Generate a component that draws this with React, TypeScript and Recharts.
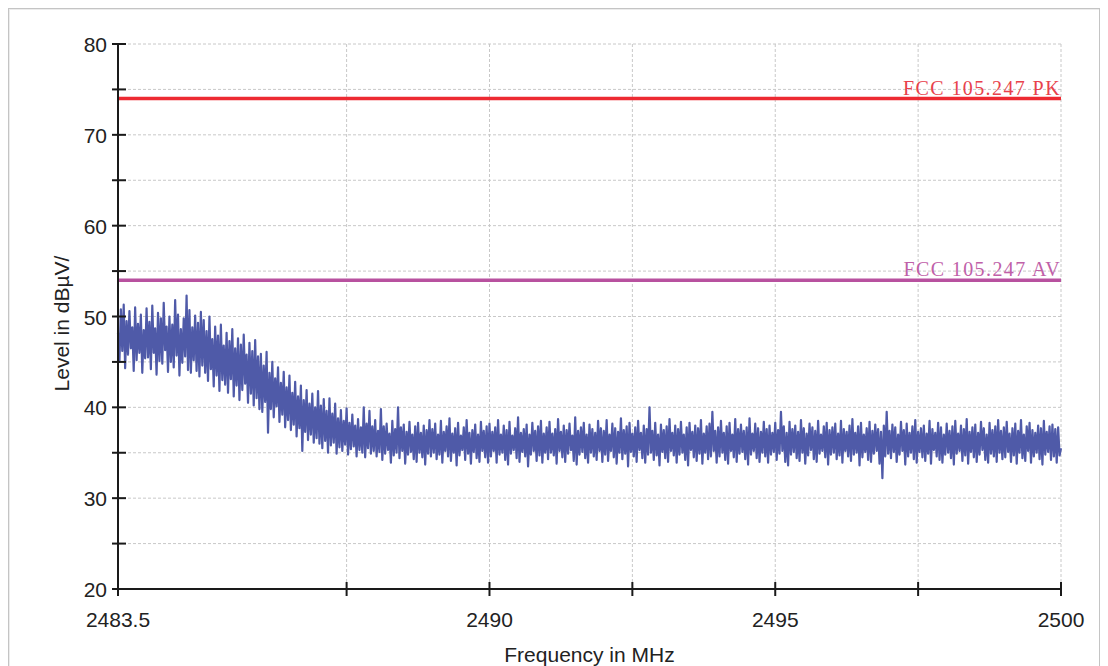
import { LineChart, Line, XAxis, YAxis, CartesianGrid, ReferenceLine } from 'recharts';

// each 50 kHz bin gives a peak reading and, half a bin later, a trough reading
const FREQ_START = 2483.5;
const BIN = 0.05;

// dBµV, one row per MHz (first row covers 2483.5 - 2484)
const peaks = [
  48.2, 50.8, 51.3, 49.5, 50.6, 48.8, 51.0, 49.2, 50.2, 48.5,
  50.9, 49.4, 51.2, 48.7, 50.4, 49.8, 51.5, 48.9, 50.0, 49.1, 51.8, 50.2, 48.6, 49.8, 52.3, 50.7, 48.8, 50.1, 49.3, 50.5,
  49.6, 48.4, 50.0, 47.5, 48.9, 47.9, 49.1, 46.8, 48.2, 47.3, 48.6, 46.5, 47.6, 46.9, 48.0, 45.8, 47.1, 46.2, 47.4, 45.6,
  45.9, 44.6, 46.1, 43.8, 45.0, 43.2, 44.4, 42.7, 43.9, 42.2, 43.5, 41.6, 42.8, 41.2, 42.4, 40.8, 41.9, 40.4, 41.5, 40.0,
  41.8, 40.2, 40.9, 39.6, 41.0, 39.3, 40.4, 38.8, 39.7, 38.5, 39.9, 38.3, 39.2, 38.0, 38.7, 37.8, 40.0, 38.2, 39.6, 37.9,
  38.6, 37.4, 39.8, 37.9, 38.2, 37.1, 38.5, 37.6, 40.0, 37.8, 38.1, 37.3, 38.4, 37.0, 37.9, 38.3, 37.2, 38.0, 37.5, 38.6,
  37.6, 38.2, 37.0, 38.5, 37.3, 37.9, 38.8, 37.1, 37.7, 38.3, 36.9, 37.8, 38.6, 37.2, 37.5, 38.1, 37.0, 38.4, 37.4, 37.9,
  38.2, 37.3, 37.8, 38.6, 37.0, 38.0, 37.5, 38.4, 36.9, 37.7, 38.9, 37.2, 37.6, 38.1, 37.0, 38.3, 37.4, 37.9, 38.5, 37.1,
  37.8, 38.4, 37.1, 37.6, 38.7, 37.3, 38.0, 37.5, 38.2, 36.9, 38.9, 37.4, 37.8, 38.3, 37.0, 38.1, 37.6, 37.2, 38.5, 37.7,
  37.4, 38.6, 37.0, 38.2, 37.7, 37.3, 38.8, 37.5, 37.9, 38.3, 37.1, 37.8, 38.5, 37.2, 38.0, 37.6, 40.0, 37.4, 38.3, 37.0,
  38.1, 37.5, 37.9, 38.7, 37.2, 38.0, 37.6, 38.4, 37.0, 37.8, 38.3, 37.3, 38.0, 37.7, 38.6, 37.1, 37.9, 38.2, 39.5, 37.4,
  37.8, 38.5, 37.2, 37.9, 38.3, 37.0, 38.7, 37.6, 38.1, 37.4, 37.8, 38.8, 37.1, 38.2, 37.7, 37.3, 38.4, 37.6, 38.0, 37.2,
  38.3, 37.5, 39.5, 37.9, 37.2, 38.4, 37.6, 38.0, 37.3, 38.6, 37.7, 37.1, 38.2, 37.8, 37.4, 38.5, 37.0, 37.9, 38.3, 37.5,
  37.8, 38.2, 37.1, 38.5, 37.6, 37.3, 38.0, 38.7, 37.2, 37.9, 38.3, 37.0, 37.7, 38.4, 37.4, 38.1, 37.6, 37.3, 38.0, 39.5,
  37.4, 38.1, 37.8, 37.0, 38.4, 37.5, 38.2, 37.2, 37.9, 38.6, 37.3, 37.7, 38.0, 37.1, 38.5, 37.6, 37.2, 38.3, 37.8, 37.0,
  38.2, 37.4, 37.9, 38.5, 37.1, 38.0, 37.6, 38.7, 37.3, 37.8, 38.1, 37.2, 38.4, 37.7, 37.0, 38.3, 37.5, 37.9, 38.6, 37.4,
  37.8, 38.4, 37.1, 37.7, 38.2, 37.4, 38.6, 37.0, 37.9, 38.3, 37.5, 37.2, 38.0, 37.7, 38.5, 37.3, 37.9, 38.1, 37.6, 37.8,
];
const troughs = [
  45.0, 46.2, 44.3, 45.8, 46.5, 44.0, 45.2, 46.0, 43.8, 45.4,
  45.5, 44.2, 46.0, 43.6, 45.1, 44.8, 46.3, 43.9, 45.0, 44.4, 45.7, 43.5, 44.9, 45.6, 44.1, 43.8, 45.2, 44.0, 43.4, 44.6,
  43.8, 42.9, 44.2, 42.3, 43.5, 41.8, 43.0, 42.5, 41.6, 43.1, 41.2, 42.4, 40.8, 41.9, 42.6, 40.5, 41.5, 40.2, 41.0, 39.8,
  39.5, 40.6, 37.2, 39.8, 38.9, 40.1, 38.4, 39.2, 37.8, 38.6, 37.5, 38.1, 36.8, 37.7, 35.2, 37.3, 36.4, 37.0, 36.1, 36.6,
  36.0, 35.5, 36.3, 35.0, 35.8, 36.1, 34.9, 35.6, 35.2, 35.9, 34.8, 35.4, 35.7, 34.6, 35.3, 35.0, 34.5, 35.5, 34.9, 35.2,
  34.6, 35.1, 34.2, 34.9, 35.3, 33.9, 34.7, 35.0, 34.4, 35.2, 33.8, 34.8, 35.1, 34.3, 34.0, 35.0, 34.5, 33.7, 34.9, 34.6,
  35.0, 34.3, 34.8, 33.9, 35.2, 34.6, 34.1, 35.0, 33.6, 34.7, 35.3, 34.2, 34.9, 33.8, 35.1, 34.4, 34.0, 35.2, 34.5, 33.9,
  34.6, 35.2, 33.9, 34.8, 35.0, 34.2, 33.7, 34.9, 35.3, 34.4, 34.0, 35.1, 34.6, 33.5, 34.8, 35.2, 34.1, 34.7, 33.9, 35.0,
  34.3, 35.0, 34.7, 33.8, 35.2, 34.5, 34.0, 34.9, 35.3, 34.1, 33.7, 34.8, 35.1, 34.4, 33.9, 35.0, 34.6, 34.2, 35.2, 34.0,
  34.8, 34.1, 35.2, 34.5, 33.8, 35.0, 34.3, 34.9, 33.5, 35.1, 34.6, 34.0, 35.3, 34.4, 33.9, 34.8, 35.0, 34.2, 34.7, 33.6,
  35.1, 34.4, 34.0, 35.2, 34.7, 33.9, 34.8, 35.0, 34.2, 33.6, 35.3, 34.5, 34.1, 34.9, 33.8, 35.0, 34.3, 34.6, 35.2, 33.9,
  34.6, 35.0, 34.2, 33.8, 35.2, 34.5, 34.0, 34.9, 35.1, 34.3, 33.7, 34.8, 35.2, 34.4, 34.0, 35.0, 34.6, 33.9, 34.8, 35.1,
  34.2, 34.9, 35.2, 34.0, 33.6, 34.8, 35.1, 34.4, 34.1, 35.0, 33.8, 34.7, 35.3, 34.3, 34.0, 34.9, 35.2, 34.5, 33.7, 34.8,
  35.0, 34.3, 34.7, 33.9, 35.2, 34.6, 34.1, 34.8, 35.0, 33.6, 34.5, 35.1, 34.2, 34.0, 34.9, 35.2, 33.8, 32.2, 34.6, 34.9,
  34.4, 35.1, 34.0, 34.8, 35.2, 33.7, 34.6, 35.0, 34.3, 33.9, 35.1, 34.5, 34.1, 34.9, 33.8, 35.3, 34.6, 34.2, 33.9, 34.8,
  35.0, 34.4, 33.7, 34.9, 35.2, 34.1, 34.7, 33.8, 35.1, 34.5, 34.0, 34.8, 35.3, 34.2, 33.9, 34.9, 34.6, 34.0, 35.0, 34.3,
  34.5, 35.1, 34.0, 34.7, 33.8, 35.0, 34.4, 34.1, 35.2, 33.9, 34.6, 35.0, 34.3, 33.7, 34.8, 35.1, 34.2, 34.6, 33.9, 34.7,
];
const lastLevel = 35.5; // reading at 2500 MHz

const xTicks = [2483.5, 2487.5, 2490, 2492.5, 2495, 2497.5, 2500];
const xLabelled = [2483.5, 2490, 2495, 2500];
const yTicks = [20, 25, 30, 35, 40, 45, 50, 55, 60, 65, 70, 75, 80];

const limitPK = 74;
const limitAV = 54;

const data: { f: number; level: number }[] = [];
peaks.forEach((p, i) => {
  const f = FREQ_START + i * BIN;
  data.push({ f: Math.round(f * 1000) / 1000, level: p });
  if (troughs[i] !== undefined) {
    data.push({ f: Math.round((f + BIN / 2) * 1000) / 1000, level: troughs[i] });
  }
});
data.push({ f: 2500, level: lastLevel });

const SANS = '"Liberation Sans", Arial, sans-serif';
const SERIF = '"Liberation Serif", "Times New Roman", serif';

function YTick({ x, y, payload }: any) {
  const v = payload.value;
  return (
    <g>
      <line x1={x - 6} x2={x + 8} y1={y} y2={y} stroke="#1a1a1a" strokeWidth={2} />
      {v % 10 === 0 && (
        <text x={x - 11} y={y + 8} textAnchor="end" fontSize={21} fill="#222" fontFamily={SANS}>
          {v}
        </text>
      )}
    </g>
  );
}

function XTick({ x, y, payload }: any) {
  const v = payload.value;
  return (
    <g>
      <line x1={x} x2={x} y1={y - 7} y2={y + 7} stroke="#1a1a1a" strokeWidth={2} />
      {xLabelled.includes(v) && (
        <text x={x} y={y + 38} textAnchor="middle" fontSize={21} fill="#222" fontFamily={SANS}>
          {v}
        </text>
      )}
    </g>
  );
}

function limitLabel(text: string, color: string) {
  return ({ viewBox }: any) => (
    <text
      x={viewBox.x + viewBox.width}
      y={viewBox.y - 4}
      textAnchor="end"
      fontSize={20}
      letterSpacing={1.4}
      fill={color}
      fontFamily={SERIF}
    >
      {text}
    </text>
  );
}

export default function App() {
  return (
    <div
      style={{
        position: 'fixed',
        left: 8,
        top: 8,
        width: 1092,
        height: 658,
        boxSizing: 'border-box',
        border: '1px solid #c4c4c4',
        borderBottom: 'none',
        boxShadow: 'inset 1px 1px 0 #ececec',
        background: '#fff',
      }}
    >
      <LineChart width={1090} height={657} data={data} margin={{ top: 35, right: 38, left: 0, bottom: 0 }}>
        <CartesianGrid stroke="#c8c8c8" strokeDasharray="3 2" />
        <XAxis
          type="number"
          dataKey="f"
          domain={[2483.5, 2500]}
          ticks={xTicks}
          interval={0}
          height={77}
          tickSize={0}
          tickMargin={0}
          tickLine={false}
          tick={<XTick />}
          axisLine={{ stroke: '#1a1a1a', strokeWidth: 2 }}
          label={({ viewBox }: any) => (
            <text
              x={viewBox.x + viewBox.width / 2}
              y={viewBox.y + 73}
              textAnchor="middle"
              fontSize={21}
              fill="#222"
              fontFamily={SANS}
            >
              Frequency in MHz
            </text>
          )}
        />
        <YAxis
          type="number"
          domain={[20, 80]}
          ticks={yTicks}
          interval={0}
          width={109}
          tickSize={0}
          tickMargin={0}
          tickLine={false}
          tick={<YTick />}
          axisLine={{ stroke: '#1a1a1a', strokeWidth: 2 }}
          label={({ viewBox }: any) => {
            const cx = viewBox.x + 52;
            const cy = viewBox.y + viewBox.height / 2 + 7;
            return (
              <text
                x={cx}
                y={cy}
                transform={`rotate(-90 ${cx} ${cy})`}
                textAnchor="middle"
                dominantBaseline="central"
                fontSize={21}
                fill="#222"
                fontFamily={SANS}
              >
                Level in dBµV/
              </text>
            );
          }}
        />
        <ReferenceLine y={limitPK} stroke="#ed2a32" strokeWidth={3.5} label={limitLabel('FCC 105.247 PK', '#e8414b')} />
        <ReferenceLine y={limitAV} stroke="#b8519f" strokeWidth={3.5} label={limitLabel('FCC 105.247 AV', '#c060a8')} />
        <Line
          type="linear"
          dataKey="level"
          stroke="#4f5aa8"
          strokeWidth={2.2}
          strokeLinejoin="round"
          dot={false}
          isAnimationActive={false}
        />
      </LineChart>
    </div>
  );
}
